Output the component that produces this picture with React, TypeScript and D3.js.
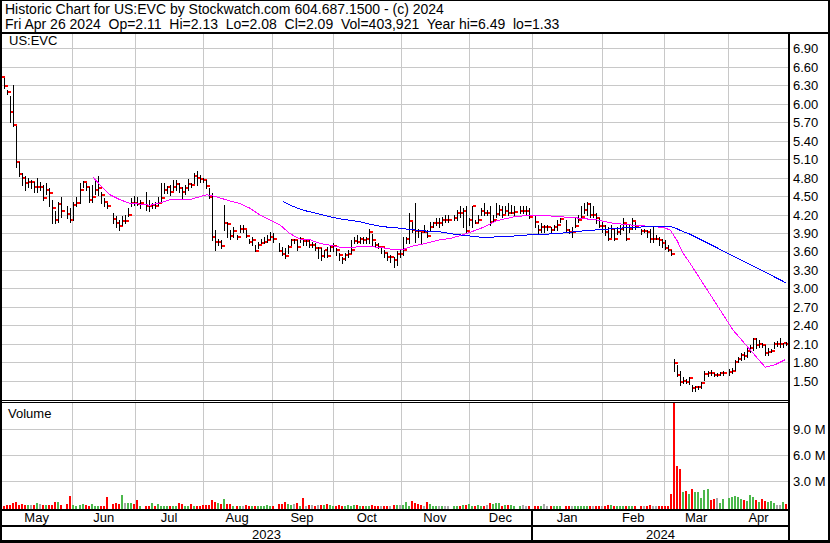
import React from 'react';
import * as d3 from 'd3';

// one slot per weekday, Apr 28 2023 .. Apr 26 2024 (null = market holiday)
const highs: (number | null)[] = [
    6.49,
    // May
    6.41, 6.22, 6.13, 6.31, 5.64, 5.06, 4.87, 4.82, 4.79, 4.76, 4.73, 4.79, 4.73, 4.68, 4.71, 4.63, 4.44, 4.25, 4.41, 4.49, null, 4.33, 4.30,
    // Jun
    4.41, 4.49, 4.71, 4.75, 4.71, 4.65, 4.68, 4.76, 4.82, 4.57, 4.46, 4.38, null, 4.22, 4.17, 4.11, 4.17, 4.19, 4.30, 4.46, 4.50, 4.49,
    // Jul
    4.44, null, 4.57, 4.44, 4.38, 4.40, 4.49, 4.71, 4.71, 4.66, 4.68, 4.76, 4.76, 4.71, 4.65, 4.68, 4.77, 4.71, 4.87, 4.90, 4.84,
    // Aug
    4.79, 4.76, 4.63, 4.55, 3.95, 3.80, 3.78, 4.35, 4.08, 3.95, 4.00, 3.87, 4.03, 4.03, 3.95, 3.81, 3.83, 3.70, 3.76, 3.81, 3.84, 3.87, 3.92,
    // Sep
    3.90, null, 3.73, 3.68, 3.65, 3.70, 3.81, 3.81, 3.79, 3.84, 3.81, 3.81, 3.79, 3.76, 3.73, 3.68, 3.65, 3.62, 3.68, 3.70, 3.73,
    // Oct
    3.65, 3.57, 3.51, 3.57, 3.62, 3.79, 3.84, 3.87, 3.84, 3.84, 3.84, 3.97, 3.89, 3.76, 3.73, 3.68, 3.62, 3.57, 3.54, 3.51, 3.60, 3.62,
    // Nov
    3.84, 3.84, 4.22, 4.08, 4.38, 3.97, 3.92, 4.03, 3.95, 4.08, 4.08, 4.14, 4.14, 4.16, 4.19, 4.19, null, 4.19, 4.27, 4.33, 4.30, 4.33,
    // Dec
    4.14, 4.33, 4.11, 4.19, 4.30, 4.38, 4.27, 4.33, 4.19, 4.38, 4.35, 4.33, 4.33, 4.39, 4.35, 4.33, null, 4.33, 4.33, 4.33, 4.30,
    // Jan
    null, 4.19, 4.03, 4.06, 4.03, 4.03, 4.00, 4.03, 4.11, 4.14, null, 4.11, 3.97, 4.00, 4.14, 4.19, 4.33, 4.38, 4.41, 4.38, 4.33, 4.22, 4.14,
    // Feb
    4.08, 4.03, 4.00, 4.03, 3.97, 4.00, 4.03, 4.14, 4.03, 4.03, 4.14, 4.08, null, 3.97, 3.97, 3.95, 3.97, 4.00, 3.87, 3.84, 3.81,
    // Mar
    3.78, 3.70, 3.62, 1.86, 1.75, 1.65, 1.56, 1.52, 1.56, 1.43, 1.41, 1.42, 1.48, 1.65, 1.66, 1.67, 1.63, 1.63, 1.64, 1.66, null,
    // Apr
    1.69, 1.70, 1.84, 1.89, 1.95, 1.96, 2.03, 2.08, 2.19, 2.19, 2.16, 2.12, 2.08, 2.03, 2.02, 2.13, 2.14, 2.19, 2.12, 2.13,
];

const lows: (number | null)[] = [
    6.20,
    6.25, 6.15, 5.71, 5.64, 4.97, 4.82, 4.68, 4.60, 4.65, 4.63, 4.57, 4.57, 4.60, 4.44, 4.54, 4.33, 4.06, 4.06, 4.08, 4.16, null, 4.15, 4.08,
    4.11, 4.33, 4.38, 4.65, 4.60, 4.41, 4.41, 4.54, 4.52, 4.38, 4.33, 4.30, null, 4.06, 4.00, 3.95, 4.03, 4.06, 4.17, 4.33, 4.35, 4.35,
    4.30, null, 4.27, 4.25, 4.30, 4.30, 4.36, 4.41, 4.55, 4.55, 4.52, 4.60, 4.60, 4.57, 4.46, 4.54, 4.60, 4.65, 4.71, 4.68, 4.73,
    4.73, 4.63, 4.46, 3.79, 3.62, 3.70, 3.65, 3.95, 3.84, 3.81, 3.84, 3.81, 3.92, 3.92, 3.84, 3.73, 3.70, 3.60, 3.65, 3.73, 3.73, 3.76, 3.81,
    3.76, null, 3.60, 3.54, 3.49, 3.57, 3.70, 3.73, 3.62, 3.76, 3.70, 3.70, 3.68, 3.68, 3.62, 3.49, 3.46, 3.51, 3.51, 3.60, 3.60,
    3.54, 3.46, 3.41, 3.46, 3.51, 3.57, 3.73, 3.73, 3.73, 3.73, 3.74, 3.73, 3.70, 3.68, 3.65, 3.57, 3.51, 3.46, 3.43, 3.35, 3.38, 3.51,
    3.54, 3.73, 3.73, 3.92, 3.76, 3.84, 3.73, 3.92, 3.83, 3.95, 4.00, 4.03, 4.00, 4.03, 4.08, 4.08, null, 4.11, 4.11, 4.16, 4.00, 3.92,
    4.03, 4.00, 4.06, 4.08, 4.19, 4.19, 4.19, 4.03, 4.08, 4.16, 4.19, 4.16, 4.22, 4.19, 4.22, 4.19, null, 4.22, 4.22, 4.19, 4.14,
    null, 4.00, 3.90, 3.92, 3.92, 3.95, 3.92, 3.95, 3.95, 4.08, null, 3.92, 3.90, 3.84, 4.00, 4.08, 4.14, 4.22, 4.19, 4.16, 4.16, 4.06, 4.00,
    3.92, 3.87, 3.79, 3.84, 3.79, 3.89, 3.89, 3.95, 3.79, 3.92, 3.97, 3.97, null, 3.89, 3.92, 3.84, 3.76, 3.76, 3.80, 3.70, 3.68,
    3.64, 3.60, 3.55, 1.65, 1.57, 1.43, 1.46, 1.46, 1.44, 1.33, 1.34, 1.36, 1.38, 1.51, 1.58, 1.59, 1.58, 1.58, 1.59, 1.60, null,
    1.59, 1.62, 1.67, 1.81, 1.84, 1.86, 1.89, 1.97, 2.00, 2.03, 2.05, 2.05, 1.92, 1.92, 1.96, 2.03, 2.07, 2.05, 2.05, 2.08,
];

const closes: (number | null)[] = [
    6.44,
    6.29, 6.19, 5.86, 5.65, 5.06, 4.85, 4.79, 4.71, 4.72, 4.72, 4.64, 4.65, 4.65, 4.46, 4.60, 4.55, 4.30, 4.11, 4.37, 4.26, null, 4.21, 4.11,
    4.35, 4.38, 4.60, 4.72, 4.65, 4.44, 4.49, 4.60, 4.63, 4.52, 4.41, 4.33, null, 4.13, 4.06, 4.01, 4.10, 4.10, 4.19, 4.39, 4.38, 4.37,
    4.38, null, 4.34, 4.33, 4.35, 4.34, 4.38, 4.46, 4.59, 4.64, 4.57, 4.65, 4.70, 4.63, 4.57, 4.63, 4.70, 4.68, 4.82, 4.79, 4.77,
    4.76, 4.66, 4.48, 3.84, 3.75, 3.76, 3.69, 4.06, 4.05, 3.85, 3.93, 3.83, 3.96, 3.96, 3.85, 3.75, 3.78, 3.61, 3.70, 3.74, 3.76, 3.78, 3.83,
    3.80, null, 3.61, 3.56, 3.53, 3.67, 3.78, 3.78, 3.67, 3.81, 3.77, 3.77, 3.70, 3.70, 3.65, 3.65, 3.53, 3.62, 3.53, 3.67, 3.69,
    3.63, 3.54, 3.47, 3.55, 3.56, 3.62, 3.77, 3.76, 3.80, 3.78, 3.80, 3.92, 3.78, 3.70, 3.67, 3.67, 3.57, 3.51, 3.51, 3.46, 3.56, 3.56,
    3.63, 3.80, 4.10, 3.95, 3.94, 3.93, 3.92, 3.92, 3.85, 3.99, 4.06, 4.07, 4.07, 4.11, 4.11, 4.11, null, 4.14, 4.23, 4.22, 4.25, 3.94,
    4.11, 4.33, 4.07, 4.11, 4.25, 4.23, 4.23, 4.08, 4.11, 4.21, 4.27, 4.19, 4.26, 4.22, 4.23, 4.24, null, 4.26, 4.26, 4.26, 4.16,
    null, 4.08, 3.95, 3.99, 3.99, 3.99, 3.95, 3.99, 4.03, 4.12, null, 3.95, 3.92, 3.92, 4.02, 4.11, 4.16, 4.27, 4.37, 4.19, 4.19, 4.14, 4.02,
    4.02, 3.92, 3.80, 3.97, 3.80, 3.92, 3.97, 4.06, 3.80, 3.97, 4.10, 4.00, null, 3.94, 3.94, 3.92, 3.81, 3.81, 3.81, 3.78, 3.74,
    3.65, 3.62, 3.56, 1.78, 1.59, 1.48, 1.49, 1.48, 1.54, 1.38, 1.39, 1.40, 1.46, 1.61, 1.63, 1.62, 1.60, 1.60, 1.62, 1.63, null,
    1.64, 1.66, 1.80, 1.85, 1.92, 1.90, 1.99, 2.03, 2.17, 2.08, 2.10, 2.08, 1.95, 1.96, 1.99, 2.10, 2.10, 2.10, 2.11, 2.09,
];

// millions of shares
const volumes: (number | null)[] = [
    0.20,
    0.20, 0.25, 0.28, 0.45, 0.55, 0.28, 0.38, 0.28, 0.28, 0.28, 0.28, 0.45, 0.38, 0.28, 0.28, 0.28, 0.28, 0.65, 0.55, 0.30, null, 0.38, 1.30,
    0.28, 0.20, 0.28, 0.38, 0.28, 0.20, 0.38, 0.20, 0.20, 0.20, 0.20, 1.20, null, 0.38, 0.45, 0.38, 1.40, 0.45, 0.45, 0.45, 0.38, 0.80,
    0.20, null, 0.20, 0.20, 0.45, 0.20, 0.40, 0.15, 0.15, 0.15, 0.20, 0.20, 0.20, 0.45, 0.38, 0.20, 0.20, 0.38, 0.20, 0.15, 0.15,
    0.30, 0.30, 0.30, 0.85, 0.55, 0.45, 0.38, 0.90, 0.38, 0.38, 0.20, 0.20, 0.20, 0.20, 0.30, 0.20, 0.20, 0.20, 0.20, 0.20, 0.20, 0.28, 0.20,
    0.20, null, 0.38, 0.38, 0.55, 0.38, 0.28, 0.38, 0.45, 0.20, 1.06, 0.20, 0.28, 0.28, 0.20, 0.28, 0.28, 0.28, 0.38, 0.28, 0.20,
    0.20, 0.28, 0.20, 0.20, 0.28, 0.20, 0.28, 0.28, 0.15, 0.10, 0.20, 0.20, 0.30, 0.20, 0.20, 0.20, 0.20, 0.20, 0.20, 0.28, 0.28, 0.28,
    0.30, 0.55, 0.20, 0.72, 0.50, 0.38, 0.30, 0.20, 0.55, 0.38, 0.20, 0.20, 0.20, 0.15, 0.15, 0.10, null, 0.10, 0.15, 0.20, 0.28, 0.28,
    0.38, 0.20, 0.20, 0.28, 0.20, 0.20, 0.28, 0.50, 0.38, 0.45, 0.45, 0.20, 0.28, 0.28, 0.28, 0.20, null, 0.20, 0.28, 0.10, 0.10,
    null, 0.15, 0.15, 0.10, 0.37, 0.15, 0.10, 0.10, 0.10, 0.10, null, 0.15, 0.10, 0.10, 0.10, 0.10, 0.15, 0.10, 0.15, 0.10, 0.10, 0.15, 0.15,
    0.15, 0.15, 0.26, 0.26, 0.15, 0.15, 0.15, 0.15, 0.15, 0.15, 0.15, 0.15, null, 0.10, 0.10, 0.15, 0.26, 0.15, 0.10, 0.10, 0.15,
    0.10, 0.10, 1.52, 12.5, 4.72, 4.37, 1.75, 1.86, 1.52, 2.09, 1.75, 1.75, 1.06, 1.98, 2.09, 0.83, 0.95, 1.06, 0.49, 0.95, null,
    1.06, 1.18, 1.29, 1.18, 0.95, 0.83, 0.72, 1.41, 1.18, 0.83, 0.60, 0.95, 0.72, 0.60, 0.72, 0.49, 0.26, 0.26, 0.60, 0.40,
];

// moving averages: [slot, value]
const maShort: [number, number][] = [
    [30.6, 4.80], [32.8, 4.68], [36.1, 4.52], [39.4, 4.44], [42.7, 4.38], [46, 4.37], [49.4, 4.35], [52.7, 4.39],
    [56, 4.44], [59.3, 4.44], [62.3, 4.44], [65.9, 4.49], [68.2, 4.52], [70.2, 4.50], [72.5, 4.47], [75.8, 4.42],
    [79.2, 4.38], [82.5, 4.30], [85.8, 4.19], [89.1, 4.11], [92.4, 4.03], [95.7, 3.89], [99, 3.80], [102.3, 3.79],
    [105.7, 3.73], [109, 3.70], [112.3, 3.67], [116.6, 3.67], [122.2, 3.68], [126.5, 3.66], [129.8, 3.63], [133.1, 3.63],
    [136.5, 3.69], [139.8, 3.72], [143.1, 3.76], [145.4, 3.79], [148.7, 3.81], [153, 3.87], [158.7, 3.97], [164.3, 4.10],
    [169.6, 4.16], [175.2, 4.19], [180.9, 4.18], [186.2, 4.16], [191.8, 4.14], [197.4, 4.11], [202.7, 4.06], [208.3, 4.03],
    [214, 4.01], [219.3, 3.99], [221.6, 3.95], [223.9, 3.78], [225.9, 3.57], [228.2, 3.41], [242.5, 2.32], [248.7, 1.97],
    [253.1, 1.72], [256.4, 1.76], [259.7, 1.84],
];

const maLong: [number, number][] = [
    [93.5, 4.41], [96.8, 4.33], [100.1, 4.27], [103.4, 4.23], [106.8, 4.19], [110.1, 4.15], [113.4, 4.12], [116.7, 4.10],
    [120, 4.07], [123.3, 4.03], [126.6, 4.00], [129.9, 3.99], [133.3, 3.97], [136.6, 3.95], [141, 3.93], [145.4, 3.92],
    [148.7, 3.89], [155.3, 3.85], [160.9, 3.82], [164.2, 3.84], [169.7, 3.85], [175.2, 3.87], [180.8, 3.88], [186.3, 3.90],
    [191.8, 3.93], [197.3, 3.95], [202.8, 3.97], [208.3, 3.99], [213.9, 4.00], [219.4, 4.00], [222.2, 4.00], [223.8, 3.97],
    [226, 3.92], [228.2, 3.88], [244.8, 3.47], [260, 3.09],
];

const monthNames = ['May', 'Jun', 'Jul', 'Aug', 'Sep', 'Oct', 'Nov', 'Dec', 'Jan', 'Feb', 'Mar', 'Apr'];
// slot position of each month boundary (Jun .. Apr)
const monthEdges = [23.6, 44.5, 66.8, 89.6, 109.8, 132.5, 154.9, 175.9, 199.1, 219.7, 240.8];
const yearLabels = ['2023', '2024'];
const yearBreak = 7; // index in monthEdges where 2024 begins
const priceTicks = [6.9, 6.6, 6.3, 6.0, 5.7, 5.4, 5.1, 4.8, 4.5, 4.2, 3.9, 3.6, 3.3, 3.0, 2.7, 2.4, 2.1, 1.8, 1.5];
const volumeTicks = [3, 6, 9];

const headerLine1 = 'Historic Chart for US:EVC by Stockwatch.com 604.687.1500 - (c) 2024';
const headerLine2 = 'Fri Apr 26 2024  Op=2.11  Hi=2.13  Lo=2.08  Cl=2.09  Vol=403,921  Year hi=6.49  lo=1.33';

const FONT = '"Liberation Sans", Arial, sans-serif';
const GRID = '#c8c8c8';
const UP = '#4cb84c';
const DOWN = '#ff0000';
const FLAT = '#a8a8a8';

const App: React.FC = () => {
    const width = 830;
    const height = 543;
    const plotLeft = 1;
    const plotRight = 789;
    const priceTop = 34;
    const priceBottom = 400;
    const volTop = 403;
    const volBottom = 509;

    const x = d3.scaleLinear().domain([0, 260]).range([1.02, 786]);
    const yP = d3.scaleLinear().domain([1.5, 6.9]).range([380.7, 48.3]);
    const yV = d3.scaleLinear().domain([0, 9]).range([507.3, 428.5]);

    const bars: { i: number; h: number; l: number; c: number; v: number; color: string }[] = [];
    let prev: number | null = null;
    highs.forEach((h, i) => {
        const c = closes[i];
        if (h == null || c == null) return;
        // volume colour follows the day's close against the previous close
        const color = prev == null || c === prev ? FLAT : c > prev ? UP : DOWN;
        bars.push({ i, h, l: lows[i] as number, c, v: volumes[i] as number, color });
        prev = c;
    });

    const line = d3.line<[number, number]>()
        .x(d => x(d[0]))
        .y(d => yP(d[1]));

    const edgesPx = [plotLeft, ...monthEdges.map(e => x(e)), plotRight];
    const gridX = monthEdges.map(e => Math.round(x(e)) + 0.5);
    const yearPx = [plotLeft, Math.round(x(monthEdges[yearBreak])), plotRight];

    return (
        <div style={{ position: 'absolute', left: 0, top: 0 }}>
            <svg width={width} height={height} style={{ display: 'block', background: '#fff' }}
                fontFamily={FONT} shapeRendering="crispEdges">
                <defs>
                    <clipPath id="priceClip">
                        <rect x={plotLeft} y={priceTop} width={plotRight - plotLeft} height={priceBottom - priceTop} />
                    </clipPath>
                    <clipPath id="volClip">
                        <rect x={plotLeft} y={volTop} width={plotRight - plotLeft} height={volBottom - volTop} />
                    </clipPath>
                </defs>
                <rect x={0} y={0} width={width} height={height} fill="#fff" />

                {/* header */}
                <text x={5} y={14} fontSize={14} fill="#000" style={{ whiteSpace: 'pre' }}>{headerLine1}</text>
                <text x={5} y={28.5} fontSize={14} fill="#000" style={{ whiteSpace: 'pre' }}>{headerLine2}</text>

                {/* price grid */}
                {priceTicks.map(t => (
                    <line key={'pg' + t} x1={plotLeft} x2={plotRight} y1={Math.round(yP(t)) + 0.5} y2={Math.round(yP(t)) + 0.5}
                        stroke={GRID} strokeWidth={1} />
                ))}
                {volumeTicks.map(t => (
                    <line key={'vg' + t} x1={plotLeft} x2={plotRight} y1={Math.round(yV(t)) + 0.5} y2={Math.round(yV(t)) + 0.5}
                        stroke={GRID} strokeWidth={1} />
                ))}
                {gridX.map((gx, k) => (
                    <g key={'mg' + k}>
                        <line x1={gx} x2={gx} y1={priceTop} y2={priceBottom} stroke={GRID} strokeWidth={1} />
                        <line x1={gx} x2={gx} y1={volTop} y2={volBottom} stroke={GRID} strokeWidth={1} />
                    </g>
                ))}

                {/* price bars */}
                <g clipPath="url(#priceClip)">
                    {bars.map(b => {
                        const bx = Math.round(x(b.i));
                        return (
                            <rect key={'ct' + b.i} x={bx + 1} y={Math.round(yP(b.c)) - 1} width={3} height={2} fill={DOWN} />
                        );
                    })}
                    {bars.map(b => {
                        const bx = Math.round(x(b.i));
                        const top = Math.round(yP(b.h));
                        const bot = Math.round(yP(b.l)) + 1;
                        return <rect key={'hl' + b.i} x={bx} y={top} width={1} height={Math.max(1, bot - top)} fill="#000" />;
                    })}
                    <path d={line(maShort) ?? ''} fill="none" stroke="#ff00ff" strokeWidth={1} />
                    <path d={line(maLong) ?? ''} fill="none" stroke="#0000ff" strokeWidth={1} />
                </g>

                {/* volume bars */}
                <g clipPath="url(#volClip)">
                    {bars.map(b => {
                        const bx = Math.round(x(b.i));
                        const top = Math.round(yV(b.v));
                        return <rect key={'v' + b.i} x={bx - 1} y={top} width={2} height={volBottom - top} fill={b.color} />;
                    })}
                </g>

                <text x={9} y={45} fontSize={13} fill="#000">US:EVC</text>
                <text x={8} y={418} fontSize={13} fill="#000">Volume</text>

                {/* right axis labels */}
                {priceTicks.map(t => (
                    <text key={'pl' + t} x={793} y={Math.round(yP(t)) + 5} fontSize={13} fill="#000">{t.toFixed(2)}</text>
                ))}
                {volumeTicks.map(t => (
                    <text key={'vl' + t} x={793} y={Math.round(yV(t)) + 5} fontSize={13} fill="#000">{t.toFixed(1) + ' M'}</text>
                ))}

                {/* month / year rows */}
                {monthNames.map((m, k) => (
                    <text key={'m' + m} x={(edgesPx[k] + edgesPx[k + 1]) / 2} y={522} fontSize={13} textAnchor="middle" fill="#000">{m}</text>
                ))}
                {yearLabels.map((yl, k) => (
                    <text key={'y' + yl} x={(yearPx[k] + yearPx[k + 1]) / 2} y={538.5} fontSize={13} textAnchor="middle" fill="#000">{yl}</text>
                ))}

                {/* frame lines */}
                <rect x={0} y={32} width={width} height={2} fill="#000" />
                <rect x={0} y={400} width={plotRight} height={1} fill="#000" />
                <rect x={0} y={402} width={plotRight} height={1} fill="#000" />
                <rect x={0} y={509} width={plotRight} height={2} fill="#000" />
                <rect x={0} y={525} width={plotRight} height={2} fill="#000" />
                <rect x={plotRight - 1} y={32} width={2} height={height - 32} fill="#000" />
                <rect x={yearPx[1] - 1} y={509} width={2} height={height - 509} fill="#000" />
                <rect x={0.5} y={0.5} width={width - 1} height={height - 1} fill="none" stroke="#000" strokeWidth={1} />
                <rect x={0} y={0} width={2} height={height} fill="#000" />
                <rect x={0} y={540} width={width} height={3} fill="#000" />
                <rect x={width - 2} y={0} width={2} height={height} fill="#000" />
            </svg>
        </div>
    );
};

export default App;
